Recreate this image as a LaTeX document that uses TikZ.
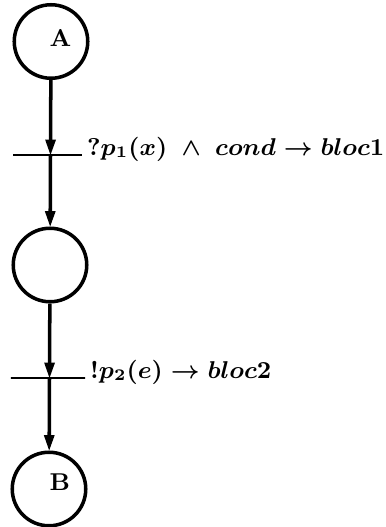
\documentclass[tikz,border=0pt]{standalone}
\usepackage{amsmath,amssymb}
\usetikzlibrary{arrows.meta}
\tikzset{
  place/.style={draw, circle, line width=1.3pt, minimum size=27.2pt, inner sep=0pt},
  trans/.style={draw, rectangle, line width=1pt, minimum height=0pt, inner sep=0pt, minimum width=#1},
  trans/.default={26pt},
  guard/.style={anchor=base west, inner xsep=1.2pt, font=\fontsize{9.2}{11}\selectfont\boldmath},
  tag/.style={font=\small\bfseries},
}
\begin{document}
\begin{tikzpicture}[x=0.37pt, y=-0.37pt,
  flow/.style={line width=1.3pt, -{Triangle[length=6pt, width=3.6pt]}, shorten >=-0.3pt}]
\useasboundingbox (0,0) rectangle (385,527);
% places
\node[place, label={[tag, xshift=3.5pt, yshift=1.3pt]center:A}] (A) at (51,41.5) {};
\node[place] (M) at (50,265) {};
\node[place, label={[tag, xshift=4pt, yshift=2.5pt]center:B}] (B) at (49,489) {};
% transitions
\coordinate (t1) at (50.5,155);
\coordinate (t2) at (49.5,378);
\node[trans=25.5pt] (bar1) at (47.5,155) {};
\node[trans=27.4pt] (bar2) at (48,378) {};
\node[guard] (g1) at (bar1.east) {$?p_1(x)\;\wedge\;cond\rightarrow bloc1$};
\node[guard] (g2) at (bar2.east) {$!p_2(e) \rightarrow bloc2$};
\foreach \u/\v in {A/t1,t1/M,M/t2,t2/B} \draw[flow] (\u) -- (\v);
\end{tikzpicture}
\end{document}
